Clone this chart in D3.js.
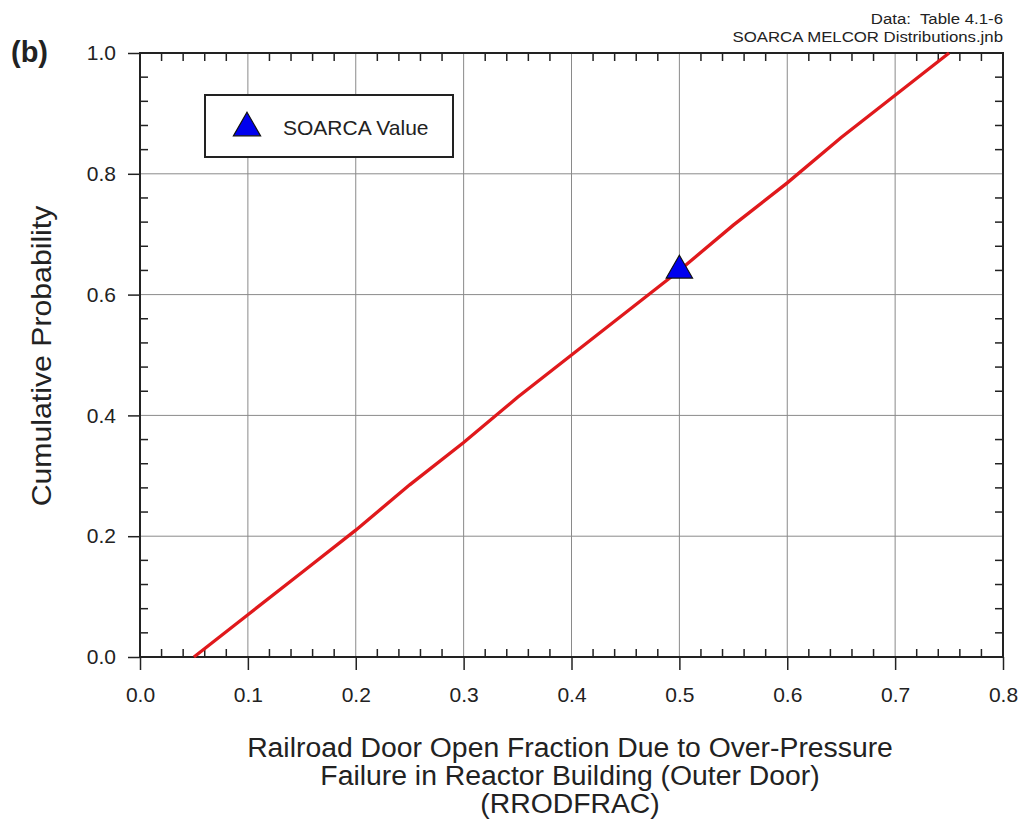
<!DOCTYPE html>
<html><head><meta charset="utf-8">
<script src="https://cdn.jsdelivr.net/npm/d3@7"></script>
<style>body{margin:0;background:#fff}svg{display:block}text{font-family:"Liberation Sans",Arial,sans-serif;fill:#222}</style>
</head><body>
<script>
const cdfX = [0.05, 0.10, 0.15, 0.20, 0.25, 0.30, 0.35, 0.40, 0.45, 0.50, 0.55, 0.60, 0.65, 0.70, 0.75];
const cdfY = [0.00, 0.07, 0.14, 0.21, 0.285, 0.355, 0.43, 0.50, 0.57, 0.64, 0.715, 0.785, 0.86, 0.93, 1.00];
const soarcaX = [0.5];
const soarcaY = [0.64];
const xTicks = [0.0, 0.1, 0.2, 0.3, 0.4, 0.5, 0.6, 0.7, 0.8];
const yTicks = [0.0, 0.2, 0.4, 0.6, 0.8, 1.0];

const W = 1023, H = 827;
const m = {l:140, r:1003, t:53, b:657};
const svg = d3.select("body").append("svg").attr("width", W).attr("height", H);
const x = d3.scaleLinear().domain([0, 0.8]).range([m.l, m.r]);
const y = d3.scaleLinear().domain([0, 1]).range([m.b, m.t]);

// grid
const g = svg.append("g");
g.selectAll(".gx").data(xTicks.slice(1, -1)).join("line")
  .attr("x1", d => x(d)).attr("x2", d => x(d)).attr("y1", m.t).attr("y2", m.b)
  .attr("stroke", "#8a8a8a").attr("stroke-width", 1);
g.selectAll(".gy").data(yTicks.slice(1, -1)).join("line")
  .attr("y1", d => y(d)).attr("y2", d => y(d)).attr("x1", m.l).attr("x2", m.r)
  .attr("stroke", "#8a8a8a").attr("stroke-width", 1);

// minor ticks
const xMinor = d3.range(0, 41).map(i => i * 0.02).filter((d, i) => i % 5 !== 0);
const yMinor = d3.range(0, 26).map(i => i * 0.04).filter((d, i) => i % 5 !== 0);
const tk = svg.append("g").attr("stroke", "#222").attr("stroke-width", 1.5);
xMinor.forEach(d => {
  tk.append("line").attr("x1", x(d)).attr("x2", x(d)).attr("y1", m.b).attr("y2", m.b - 8);
  tk.append("line").attr("x1", x(d)).attr("x2", x(d)).attr("y1", m.t).attr("y2", m.t + 8);
});
yMinor.forEach(d => {
  tk.append("line").attr("y1", y(d)).attr("y2", y(d)).attr("x1", m.l).attr("x2", m.l + 8);
  tk.append("line").attr("y1", y(d)).attr("y2", y(d)).attr("x1", m.r).attr("x2", m.r - 8);
});

// axes via d3
const xAxis = svg.append("g").attr("transform", `translate(0,${m.b})`)
  .call(d3.axisBottom(x).tickValues(xTicks).tickFormat(d3.format(".1f")).tickSize(13).tickPadding(17));
const yAxis = svg.append("g").attr("transform", `translate(${m.l},0)`)
  .call(d3.axisLeft(y).tickValues(yTicks).tickFormat(d3.format(".1f")).tickSize(12).tickPadding(12));
[xAxis, yAxis].forEach(a => {
  a.select(".domain").remove();
  a.selectAll("line").attr("stroke", "#222").attr("stroke-width", 1.5);
  a.selectAll("text").style("font-size", "21px").attr("fill", "#222");
});

// frame
svg.append("rect").attr("x", m.l).attr("y", m.t).attr("width", m.r - m.l).attr("height", m.b - m.t)
  .attr("fill", "none").attr("stroke", "#222").attr("stroke-width", 2);

// CDF line
const pts = cdfX.map((d, i) => [d, cdfY[i]]);
svg.append("path").datum(pts)
  .attr("d", d3.line().x(d => x(d[0])).y(d => y(d[1])))
  .attr("fill", "none").attr("stroke", "#e0191c").attr("stroke-width", 3.3);

// triangle marker
const tri = d3.symbol().type(d3.symbolTriangle).size(300);
svg.selectAll(".mk").data(soarcaX.map((d, i) => [d, soarcaY[i]])).join("path")
  .attr("d", tri).attr("transform", d => `translate(${x(d[0])},${y(d[1])})`)
  .attr("fill", "#0000ee").attr("stroke", "#111").attr("stroke-width", 1.2);

// legend
svg.append("rect").attr("x", 205).attr("y", 95).attr("width", 248).attr("height", 62)
  .attr("fill", "#fff").attr("stroke", "#222").attr("stroke-width", 2);
svg.append("path").attr("d", d3.symbol().type(d3.symbolTriangle).size(320)()).attr("transform", "translate(247,128)")
  .attr("fill", "#0000ee").attr("stroke", "#111").attr("stroke-width", 1.2);
svg.append("text").attr("x", 283).attr("y", 135).style("font-size", "21px").text("SOARCA Value");

// titles
svg.append("text").attr("transform", "translate(51,356) rotate(-90) scale(1.08,1)").attr("text-anchor", "middle")
  .style("font-size", "28px").text("Cumulative Probability");
const xt = ["Railroad Door Open Fraction Due to Over-Pressure", "Failure in Reactor Building (Outer Door)", "(RRODFRAC)"];
svg.selectAll(".xt").data(xt).join("text")
  .attr("transform", (d, i) => `translate(570,${757 + i * 28}) scale(1.05,1)`)
  .attr("text-anchor", "middle").style("font-size", "27px").text(d => d);

svg.append("text").attr("x", 11).attr("y", 62).style("font-size", "29px").style("font-weight", "bold").text("(b)");
svg.append("text").attr("transform", "translate(1003,24) scale(1.12,1)").attr("text-anchor", "end")
  .attr("xml:space", "preserve").style("white-space", "pre").style("font-size", "15px").text("Data:  Table 4.1-6");
svg.append("text").attr("transform", "translate(1003,42) scale(1.12,1)").attr("text-anchor", "end")
  .style("font-size", "15px").text("SOARCA MELCOR Distributions.jnb");
</script>
</body></html>
